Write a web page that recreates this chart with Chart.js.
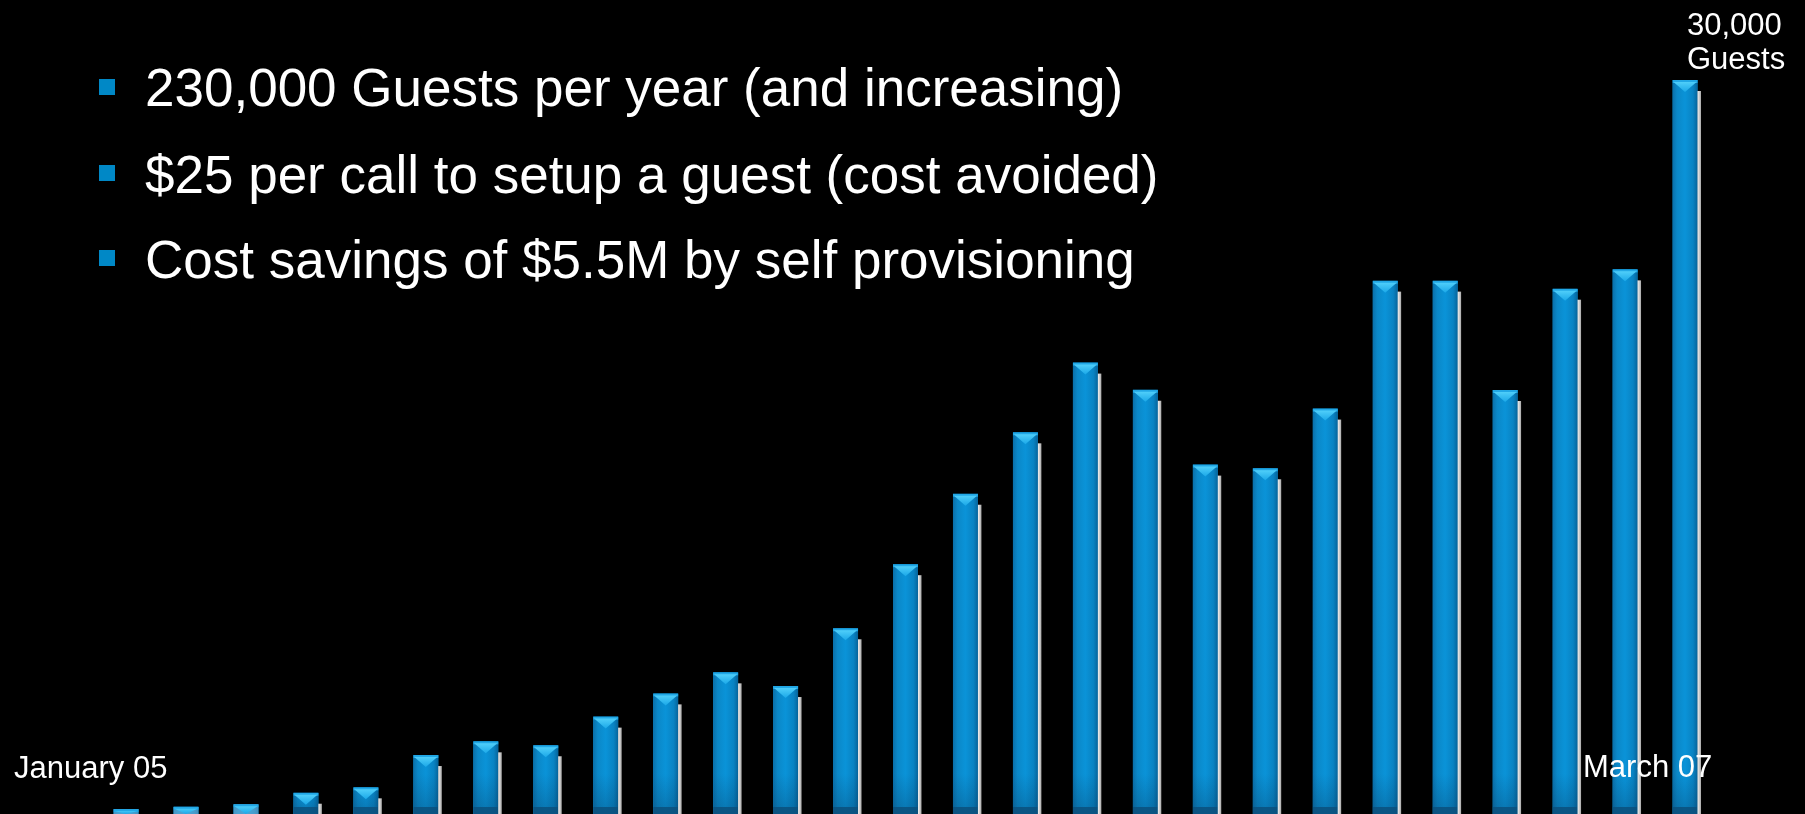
<!DOCTYPE html>
<html>
<head>
<meta charset="utf-8">
<title>Guests per month</title>
<script src="https://cdn.jsdelivr.net/npm/chart.js@4.4.1/dist/chart.umd.min.js"></script>
<style>
  html, body { margin: 0; padding: 0; background: #000; }
  #wrap { position: relative; width: 1805px; height: 814px; overflow: hidden; background: #000; }
  #guestChart { position: absolute; left: 0; top: 0; }
  .txt { position: absolute; color: #fff; font-family: "Liberation Sans", Arial, sans-serif; white-space: nowrap; }
  .bullet { font-size: 53px; line-height: 53px; left: 145px; }
  .sq { position: absolute; left: 99px; width: 16px; height: 16px; background: #0088c6; }
  .lbl { font-size: 31px; line-height: 34px; }
</style>
</head>
<body>
<div id="wrap">
  <canvas id="guestChart" width="1805" height="814"></canvas>
</div>

<script>
  /* ================= DATA ================= */
  const months = [
    "Jan 05", "Feb 05", "Mar 05", "Apr 05", "May 05", "Jun 05", "Jul 05", "Aug 05", "Sep 05",
    "Oct 05", "Nov 05", "Dec 05", "Jan 06", "Feb 06", "Mar 06", "Apr 06", "May 06", "Jun 06",
    "Jul 06", "Aug 06", "Sep 06", "Oct 06", "Nov 06", "Dec 06", "Jan 07", "Feb 07", "Mar 07"
  ];

  const guests = [
    200, 300, 400, 870, 1090, 2410, 2970, 2810, 3980,
    4930, 5790, 5230, 7590, 10210, 13090, 15600, 18450, 17340,
    14280, 14130, 16570, 21800, 21800, 17330, 21470, 22260, 30000
  ];

  const bulletLines = [
    "230,000 Guests per year (and increasing)",
    "$25 per call to setup a guest (cost avoided)",
    "Cost savings of $5.5M by self provisioning"
  ];

  const startLabel = "January 05";
  const endLabel = "March 07";
  const peakLabel = ["30,000", "Guests"];

  /* ================= TEXT ================= */
  const wrap = document.getElementById("wrap");

  const bulletTops = [61, 148, 233];
  const squareTops = [79, 165, 250];

  bulletLines.forEach((line, i) => {
    const sq = document.createElement("div");
    sq.className = "sq";
    sq.style.top = squareTops[i] + "px";
    wrap.appendChild(sq);

    const t = document.createElement("div");
    t.className = "txt bullet";
    t.style.top = bulletTops[i] + "px";
    t.textContent = line;
    wrap.appendChild(t);
  });

  function addLabel(text, left, top) {
    const el = document.createElement("div");
    el.className = "txt lbl";
    el.style.left = left + "px";
    el.style.top = top + "px";
    el.textContent = text;
    wrap.appendChild(el);
  }

  addLabel(startLabel, 14, 751);
  addLabel(endLabel, 1583, 750);
  addLabel(peakLabel[0], 1687, 8);
  addLabel(peakLabel[1], 1687, 42);

  /* ================= 3D BAR LOOK ================= */
  const glossyBars = {
    id: "glossyBars",
    afterDatasetsDraw(chart) {
      const ctx = chart.ctx;
      const meta = chart.getDatasetMeta(0);

      meta.data.forEach(bar => {
        const { x, y, base, width } = bar.getProps(["x", "y", "base", "width"], true);
        const left = x - width / 2;
        const right = x + width / 2;
        const h = base - y;
        if (h <= 0) return;

        ctx.save();
        ctx.beginPath();
        ctx.rect(left, y, width + 4, h);
        ctx.clip();

        // body, rounded look from left to right
        const body = ctx.createLinearGradient(left, 0, right, 0);
        body.addColorStop(0, "#0a6fa9");
        body.addColorStop(0.18, "#0b88c8");
        body.addColorStop(0.5, "#0a93d8");
        body.addColorStop(0.82, "#0983c3");
        body.addColorStop(1, "#06649b");
        ctx.fillStyle = body;
        ctx.fillRect(left, y, width, h);

        // darker foot
        if (h > 14) {
          const fh = Math.min(40, h);
          const foot = ctx.createLinearGradient(0, base - fh, 0, base);
          foot.addColorStop(0, "rgba(6,60,100,0)");
          foot.addColorStop(1, "rgba(6,60,100,0.35)");
          ctx.fillStyle = foot;
          ctx.fillRect(left, base - fh, width, fh);
          ctx.fillStyle = "rgba(10,80,125,0.85)";
          ctx.fillRect(left, base - 7, width, 7);
        } else {
          ctx.fillStyle = "rgba(120,180,215,0.55)";
          ctx.fillRect(left, y, width, h);
        }

        // top cap with the light wedge
        const capH = Math.min(12, h);
        ctx.fillStyle = "#22a8e6";
        ctx.fillRect(left, y, width, Math.min(3, h));
        const wedge = ctx.createLinearGradient(0, y, 0, y + capH);
        wedge.addColorStop(0, "#5ad6fd");
        wedge.addColorStop(1, "#1ba8e8");
        ctx.fillStyle = wedge;
        ctx.beginPath();
        ctx.moveTo(left + 1, y + Math.min(2, h));
        ctx.lineTo(right - 1, y + Math.min(2, h));
        ctx.lineTo(x, y + capH);
        ctx.closePath();
        ctx.fill();

        // thin white edge on the right
        if (h > 12) {
          const edge = ctx.createLinearGradient(right, 0, right + 3.5, 0);
          edge.addColorStop(0, "#f2f2f2");
          edge.addColorStop(1, "#a8a8a8");
          ctx.fillStyle = edge;
          ctx.fillRect(right, y + 11, 3.5, h - 11);
        }

        ctx.restore();
      });
    }
  };

  /* ================= CHART ================= */
  new Chart(document.getElementById("guestChart"), {
    type: "bar",
    data: {
      labels: months,
      datasets: [{
        label: "Guests",
        data: guests,
        backgroundColor: "#0a8fd2",
        borderWidth: 0,
        barPercentage: 25 / 60,
        categoryPercentage: 1
      }]
    },
    options: {
      responsive: false,
      animation: false,
      layout: {
        padding: { left: 96, right: 90, top: 80, bottom: 0 }
      },
      plugins: {
        legend: { display: false },
        tooltip: { enabled: false }
      },
      scales: {
        x: { display: false },
        y: { display: false, min: 0, max: 30000 }
      }
    },
    plugins: [glossyBars]
  });
</script>
</body>
</html>
